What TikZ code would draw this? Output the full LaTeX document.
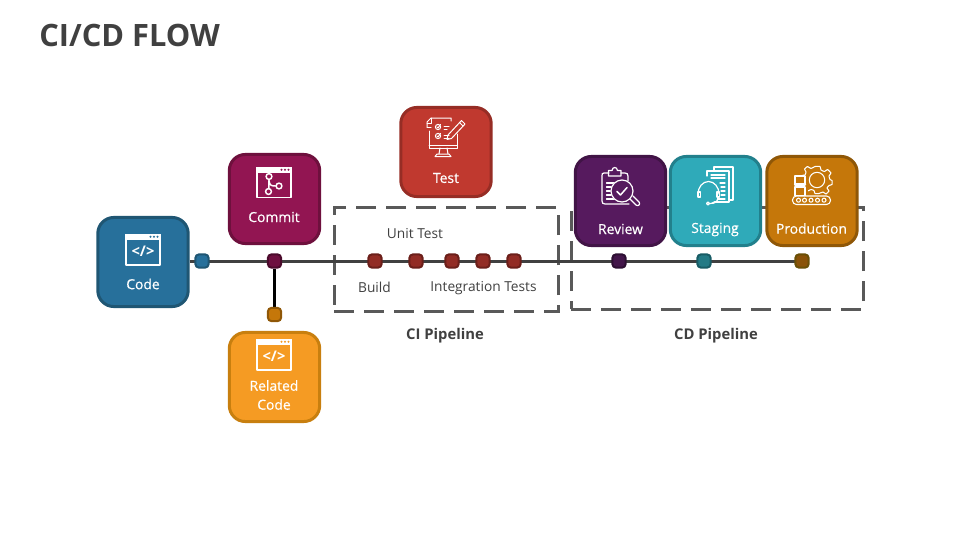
\documentclass[tikz,border=0pt]{standalone}
\usepackage{fontspec}
\setmainfont{Open Sans}
\newfontfamily\semifont[FakeBold=0.5]{Open Sans}
\usetikzlibrary{backgrounds}
\definecolor{ink}{HTML}{404040}
\definecolor{dashc}{HTML}{595959}
\definecolor{codeF}{HTML}{27709B}\definecolor{codeD}{HTML}{1F5673}
\definecolor{commitF}{HTML}{921552}\definecolor{commitD}{HTML}{6E103D}
\definecolor{testF}{HTML}{C0392F}\definecolor{testD}{HTML}{962D25}
\definecolor{reviewF}{HTML}{561A5E}\definecolor{reviewD}{HTML}{411446}
\definecolor{stagF}{HTML}{2FAAB9}\definecolor{stagD}{HTML}{22808C}
\definecolor{prodF}{HTML}{C5770A}\definecolor{prodD}{HTML}{8F5707}
\definecolor{relF}{HTML}{F59B23}\definecolor{relD}{HTML}{C87F0F}
\definecolor{dcommitF}{HTML}{6E1040}\definecolor{dcommitD}{HTML}{4B0B2C}
\definecolor{dciF}{HTML}{922C25}\definecolor{dciD}{HTML}{6B1F1A}
\definecolor{dreviewF}{HTML}{43164A}\definecolor{dreviewD}{HTML}{2D0F32}
\definecolor{dstagF}{HTML}{237A85}\definecolor{dstagD}{HTML}{185C65}
\definecolor{dprodF}{HTML}{8A5208}\definecolor{dprodD}{HTML}{6A4F06}
\tikzset{
  x=0.75pt,y=-0.75pt,
  card/.style={draw=#1D,fill=#1F,line width=2.25pt,rounded corners=12pt,minimum width=67.8pt,minimum height=66.8pt,inner sep=0pt},
  dot/.style={draw=#1D,fill=#1F,line width=1.5pt,rounded corners=2.8pt,minimum size=10pt,inner sep=0pt},
  cardtext/.style={text=white,font=\fontsize{10.4}{14.2}\semifont,align=center,inner sep=0pt},
  plain/.style={text=ink,font=\fontsize{10.3}{12}\selectfont,inner sep=0pt},
  head/.style={text=ink,font=\fontsize{11.1}{13}\selectfont\bfseries,inner sep=0pt},
  pipe/.style={draw=dashc,line width=2.25pt,dash pattern=on 15pt off 7.5pt,minimum width=#1,inner sep=0pt},
  wire/.style={draw=ink,line width=2.25pt},
  icon/.style={draw=white,line width=0.75pt,line join=round,line cap=round},
  iconthick/.style={draw=white,line width=1.4pt,line join=round}
}
\begin{document}
\begin{tikzpicture}
\useasboundingbox (0,0) rectangle (960,540);
\node[text=ink,font=\fontsize{23.1}{28}\selectfont\bfseries,anchor=west,inner sep=0pt] (title) at (39,35) {CI/CD FLOW};
% cards
\node[card=code] (code) at (143,262) {};
\node[card=commit] (commit) at (274.5,199) {};
\node[card=test] (test) at (446,152) {};
\node[card=review] (review) at (620.5,201) {};
\node[card=stag] (staging) at (715.5,201) {};
\node[card=prod] (production) at (812,201) {};
\node[card=rel] (related) at (274.5,377) {};
\node[cardtext] (tcode) at (143,284) {Code};
\node[cardtext] (tcommit) at (274,217) {Commit};
\node[cardtext] (ttest) at (446,178) {Test};
\node[cardtext] (treview) at (620.5,229) {Review};
\node[cardtext] (tstaging) at (715,229.5) {Staging};
\node[cardtext] (tproduction) at (811.5,228.5) {Production};
\node[cardtext] (trelated) at (274,395) {Related\\Code};
% dots
\node[dot=code] (d1) at (202,261) {};
\node[dot=dcommit] (d2) at (274.5,261) {};
\node[dot=dci] (d3) at (375,261) {};
\node[dot=dci] (d4) at (416,261) {};
\node[dot=dci] (d5) at (452,261) {};
\node[dot=dci] (d6) at (483,261) {};
\node[dot=dci] (d7) at (514,261) {};
\node[dot=dreview] (d8) at (619,261) {};
\node[dot=dstag] (d9) at (704,261) {};
\node[dot=dprod] (d10) at (802,261) {};
\node[dot=prod] (d11) at (274.5,314.5) {};
% labels
\node[plain] (lunit) at (415,233.5) {Unit Test};
\node[plain] (lbuild) at (374.5,287) {Build};
\node[plain] (lint) at (483.5,288) {Integration Tests};
\node[head] (lci) at (445,335.5) {CI Pipeline};
\node[head] (lcd) at (716,335.5) {CD Pipeline};
% pipelines and connectors under everything
\begin{scope}[on background layer]
\node[pipe=168pt,minimum height=78pt] (ci) at (446,259) {};
\node[pipe=219pt,minimum height=76.5pt] (cd) at (717,258) {};
\draw[wire] (code.east |- d1) -- (d10.center);
\draw[draw=black,line width=2.25pt] (d2) -- (d11);
\end{scope}
% code icon
\draw[iconthick] (126,235) rectangle (160,265);
\fill[white] (125,234) rectangle (161,239.5);
\foreach \p in {150.5,154,157.5} \fill[codeF] (\p,236.8) circle (1.1);
\node[text=white,font=\fontsize{11}{12}\selectfont\bfseries,inner sep=0pt] (icode) at (143,251.5) {</>};
% related icon
\draw[iconthick] (257,340) rectangle (291,370);
\fill[white] (256,339) rectangle (292,344.5);
\foreach \p in {281.5,285,288.5} \fill[relF] (\p,341.8) circle (1.1);
\node[text=white,font=\fontsize{11}{12}\selectfont\bfseries,inner sep=0pt] (irel) at (274,356.5) {</>};
% commit icon
\draw[iconthick] (257,168) rectangle (291,197.5);
\fill[white] (256,167) rectangle (292,172.5);
\foreach \p in {281.5,285,288.5} \fill[commitF] (\p,169.8) circle (1.1);
\draw[white,line width=1.1pt] (269,176.5) circle (2.9) (268.5,191.5) circle (2.9) (279,186) circle (2.9);
\draw[white,line width=1.1pt] (269,179.4) -- (268.8,188.6) (269,180.5) .. controls (269.5,186) and (272,186) .. (276.1,186);
% test icon
\begin{scope}[icon]
\draw (429,131) -- (429,148) -- (457,148) -- (457,134);
\draw (429,145) -- (457,145);
\draw (440,148) -- (439,154) (447,148) -- (448,154) (435,156.5) -- (451,156.5) (435,156.5) -- (437,154) -- (449,154) -- (451,156.5);
\draw (427,127) -- (427,122) -- (431,118) -- (451,118) -- (451,121);
\draw (427,127) -- (431,127) (431,118) -- (431,123) -- (427,123);
\draw (438,127) circle (2.6) (438,136) circle (2.6);
\draw (437,127) -- (438,128) -- (440.5,124.5) (437,136) -- (438,137) -- (440.5,133.5);
\draw (444,126) -- (449,126) (444,129) -- (447,129) (444,135) -- (449,135) (444,138) -- (449,138);
\draw (448,135) -- (447,139.5) -- (451.5,138.5) -- (465,124) -- (461.5,120.5) -- cycle;
\draw (459.5,122.5) -- (463,126);
\end{scope}
% review icon
\begin{scope}[icon,line width=0.9pt]
\draw (609,173) -- (604,173) .. controls (602,173) and (602,174) .. (602,176) -- (602,201) .. controls (602,203) and (603,204) .. (605,204) -- (629,204);
\draw (621,173) -- (625,173) .. controls (627,173) and (628,174) .. (628,176) -- (628,181);
\draw (608.5,176) -- (608.5,170.5) -- (612,170.5) .. controls (612.5,166.5) and (617,166.5) .. (617.5,170.5) -- (621,170.5) -- (621,176) -- cycle;
\draw (606.5,183) -- (615,183) (606.5,187) -- (613,187) (606.5,191) -- (611,191) (606.5,195) -- (612,195) (606.5,199) -- (618,199);
\fill[reviewF] (622,191) circle (11.5);
\draw (622,191) circle (11);
\draw[line width=1.1pt] (617,191.5) -- (620.5,195) -- (627,187.5);
\draw (630,199) -- (636,205) .. controls (638,207) and (641,204) .. (639,202) -- (633,196);
\end{scope}
% staging icon
\begin{scope}[icon,line width=0.9pt]
\draw (714,170) -- (714,167) -- (733,167) -- (733,200) -- (729,200);
\draw (707,176) -- (707,171) -- (729,171) -- (729,202) -- (712,202);
\draw (711,175) -- (725,175) (711,178) -- (725,178);
\draw (720,183) -- (725,183) (721,187) -- (725,187) (721,191) -- (725,191) (721,195) -- (725,195) (717,199) -- (725,199);
\fill[stagF] (708,191) circle (12);
\draw (698,194) arc[start angle=180,end angle=0,x radius=10.5,y radius=-12.5];
\draw (698,192) rectangle (700.5,197);
\draw (717,192) rectangle (719.5,197);
\draw (718,197) .. controls (718,202) and (715,203.5) .. (710,203.5);
\draw (708,203.5) circle (1.5);
\end{scope}
% production icon
\begin{scope}[icon,line width=0.8pt]
\draw plot[smooth cycle,tension=0.25] coordinates {(815,166.5) (820,166.5) (821,170) (824.5,171.5) (827.5,169.5) (831,173) (829,176) (830,179.5) (832,180.5) (832,184.5) (829,185.5) (827,188) (829,191) (826,194) (823,192) (819,193.5) (815,193.5) (814,190.5) (811,189.5) (807.5,191) (804.5,188) (806,185) (805,181.5) (802,180) (802,175.5) (805,175) (806,172) (804.5,169) (807.5,166.5) (811,168.5)};
\draw (817,180) circle (7.7);
\fill[prodF] (793,175) rectangle (807.5,197);
\draw (795,176) rectangle (805,184);
\draw[line width=1.8pt] (795,184.5) -- (805,184.5);
\draw (795,187) rectangle (805,196);
\fill[prodF] (792,196) rectangle (831,205);
\draw[rounded corners=3pt] (792.5,196) rectangle (830.5,204.5);
\foreach \p in {798.5,804.5,811,817.5,824} \draw (\p,200.2) circle (2);
\end{scope}
\end{tikzpicture}
\end{document}
